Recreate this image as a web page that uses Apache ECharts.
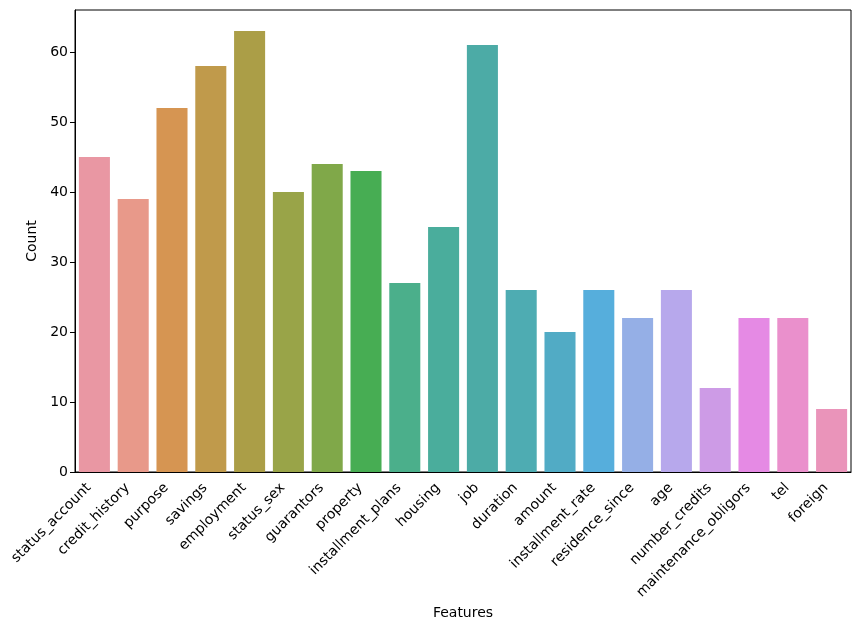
<!DOCTYPE html>
<html>
<head>
<meta charset="utf-8">
<script src="https://cdn.jsdelivr.net/npm/echarts@6/dist/echarts.min.js"></script>
<style>
  html, body { margin: 0; padding: 0; background: #fff; }
  #chart { width: 859px; height: 629px; }
</style>
</head>
<body>
<div id="chart"></div>
<script>
const features = [
  "status_account", "credit_history", "purpose", "savings", "employment",
  "status_sex", "guarantors", "property", "installment_plans", "housing",
  "job", "duration", "amount", "installment_rate", "residence_since",
  "age", "number_credits", "maintenance_obligors", "tel", "foreign"
];
const counts = [45, 39, 52, 58, 63, 40, 44, 43, 27, 35, 61, 26, 20, 26, 22, 26, 12, 22, 22, 9];
const yTicks = [0, 10, 20, 30, 40, 50, 60];
const barColors = [
  "#e997a3", "#e8998a", "#d69552", "#c09a4b", "#ab9e47",
  "#99a448", "#80a849", "#47ad53", "#4baf8b", "#4aad9c",
  "#4caba6", "#4eacb2", "#51abc5", "#56aedc", "#95afe6",
  "#b7a8ec", "#cd9be6", "#e58ae4", "#ea90cc", "#ea94ba"
];

const chart = echarts.init(document.getElementById("chart"));
const font = "DejaVu Sans";

const option = {
  animation: false,
  grid: {
    left: 75,
    right: 8,
    top: 10,
    bottom: 157,
    show: true,
    borderColor: "#000",
    borderWidth: 1,
    backgroundColor: "transparent"
  },
  xAxis: {
    type: "category",
    data: features,
    name: "Features",
    nameLocation: "middle",
    nameGap: 134,
    nameTextStyle: { fontFamily: font, fontSize: 14, color: "#000" },
    axisLine: { lineStyle: { color: "#000", width: 1 } },
    axisTick: { alignWithLabel: true, length: 5, lineStyle: { color: "#000" } },
    axisLabel: {
      interval: 0,
      rotate: 45,
      fontFamily: font,
      fontSize: 14,
      color: "#000",
      margin: 8,
      padding: [0, 8, 0, 0]
    }
  },
  yAxis: {
    type: "value",
    min: 0,
    max: 66,
    interval: 10,
    name: "Count",
    nameLocation: "middle",
    nameGap: 35,
    nameTextStyle: { fontFamily: font, fontSize: 14, color: "#000" },
    splitLine: { show: false },
    axisLine: { show: true, lineStyle: { color: "#000", width: 1 } },
    axisTick: { show: true, length: 5, customValues: yTicks, lineStyle: { color: "#000" } },
    axisLabel: {
      fontFamily: font,
      fontSize: 14,
      color: "#000",
      margin: 7,
      customValues: yTicks
    }
  },
  series: [{
    type: "bar",
    barCategoryGap: "20%",
    data: counts.map((v, i) => ({ value: v, itemStyle: { color: barColors[i] } }))
  }]
};
chart.setOption(option);
</script>
</body>
</html>
